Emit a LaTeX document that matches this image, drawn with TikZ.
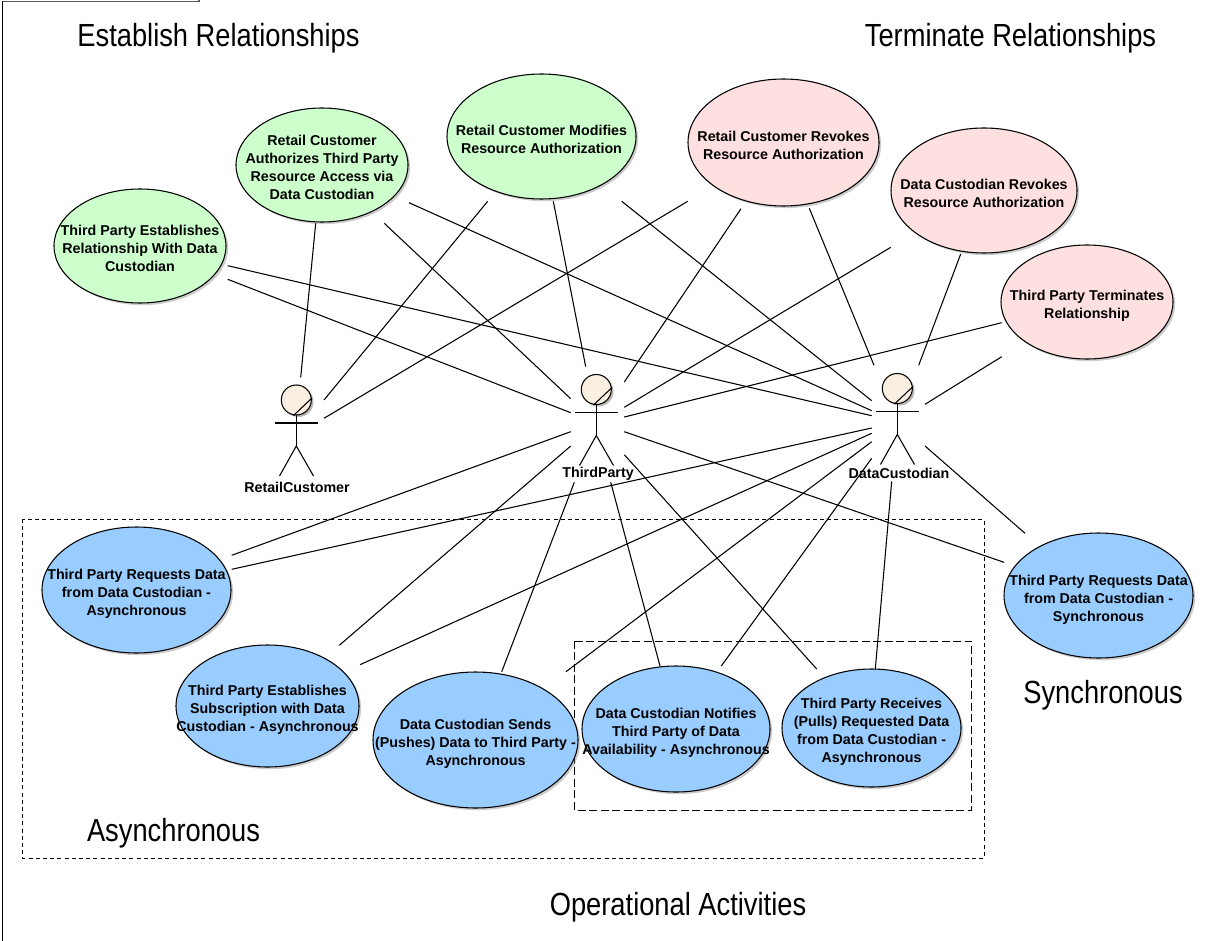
\documentclass[tikz,border=0pt]{standalone}
\usepackage{fontspec}
\setmainfont{Liberation Sans}
\newfontfamily\narrowfont[FakeStretch=0.853]{Liberation Sans}
\usetikzlibrary{shapes.geometric,shadows}
\definecolor{ucgreen}{HTML}{CCFFCC}
\definecolor{ucpink}{HTML}{FFE0E0}
\definecolor{ucblue}{HTML}{99CCFF}
\definecolor{headfill}{HTML}{FAF0E1}
\newcommand{\uclabel}[1]{\smash{\makebox[0pt]{\raisebox{-5.8pt}{\begin{tabular}{@{}c@{}}#1\end{tabular}}}}}
\newcommand{\stickman}[1]{%
    \begin{scope}[shift={(#1)}]
        \fill[black!28] (1,-33) circle (15);
        \draw[stick, fill=headfill] (-1.2,-35) circle (15);
        \draw[stick] (-4,-19.5) -- (14.5,-37);
        \draw[stick] (-23,-12) -- (20.5,-12);
        \draw[stick] (-1.2,-20) -- (-1.2,11);
        \draw[stick] (-18,41) -- (-1.2,11) -- (16,41);
    \end{scope}}
\tikzset{
    stick/.style={line width=0.8pt},
    assoc/.style={line width=0.8pt},
    ucase/.style n args={3}{ellipse, draw=black, line width=0.8pt, fill=#1, inner sep=0pt,
        minimum width=#2*0.75pt, minimum height=#3*0.75pt,
        font=\fontsize{10.7}{13.5}\selectfont\bfseries,
        drop shadow={shadow xshift=1.6pt, shadow yshift=-1.6pt, opacity=0.4}},
    actorspot/.style={inner sep=0pt, minimum size=0pt},
    actorname/.style={font=\fontsize{10.7}{13}\selectfont\bfseries, inner sep=0pt},
    heading/.style={font=\narrowfont\fontsize{24}{28}\selectfont, inner sep=0pt, anchor=base},
}
\begin{document}
\begin{tikzpicture}[x=0.75pt,y=-0.75pt]
    \useasboundingbox (0,0) rectangle (1212,941);
    \draw[line width=0.8pt] (2.5,941) -- (2.5,1.5);
    \draw[line width=0.8pt, black!65] (2.5,1.5) -- (199,1.5) -- (199,0);

    % activity groups
    \draw[line width=0.6pt, dash pattern=on 3pt off 2.4pt] (22,519) rectangle (984,858);
    \draw[line width=0.7pt, dash pattern=on 6pt off 2.6pt] (574.7,641) rectangle (971.7,810);

    % headings
    \node[heading] (establish) at (218.5,47) {Establish Relationships};
    \node[heading] (terminate) at (1010.5,47) {Terminate Relationships};
    \node[heading] (async) at (173.5,841) {Asynchronous};
    \node[heading] (sync) at (1103,703) {Synchronous};
    \node[heading] (operational) at (678,915) {Operational Activities};

    % actors
    \node[actorspot] (rc) at (297.5,435) {};
    \node[actorspot] (tp) at (597.5,424.5) {};
    \node[actorspot] (dc) at (898.5,423.5) {};
    \stickman{rc}
    \stickman{tp}
    \stickman{dc}

    % use cases
    \node[ucase={ucgreen}{172}{114}] (tpEstablish) at (140,246) {\uclabel{Third Party Establishes\\Relationship With Data\\Custodian}};
    \node[ucase={ucgreen}{172}{114}] (rcAuthorize) at (322,165) {\uclabel{Retail Customer\\Authorizes Third Party\\Resource Access via\\Data Custodian}};
    \node[ucase={ucgreen}{189}{125}] (rcModify) at (541.5,136.5) {\uclabel{Retail Customer Modifies\\Resource Authorization}};
    \node[ucase={ucpink}{191}{127}] (rcRevoke) at (783.5,142.5) {\uclabel{Retail Customer Revokes\\Resource Authorization}};
    \node[ucase={ucpink}{186}{125}] (dcRevoke) at (984,190.5) {\uclabel{Data Custodian Revokes\\Resource Authorization}};
    \node[ucase={ucpink}{172}{114}] (tpTerminate) at (1087,302) {\uclabel{Third Party Terminates\\Relationship}};
    \node[ucase={ucblue}{189}{126}] (tpReqAsync) at (136.5,590) {\uclabel{Third Party Requests Data\\from Data Custodian -\\Asynchronous}};
    \node[ucase={ucblue}{183}{122}] (tpSubscribe) at (267.5,706) {\uclabel{Third Party Establishes\\Subscription with Data\\Custodian - Asynchronous}};
    \node[ucase={ucblue}{205}{136}] (dcSend) at (475.5,740) {\uclabel{Data Custodian Sends\\(Pushes) Data to Third Party -\\Asynchronous}};
    \node[ucase={ucblue}{188}{126}] (dcNotify) at (676,729) {\uclabel{Data Custodian Notifies\\Third Party of Data\\Availability - Asynchronous}};
    \node[ucase={ucblue}{179}{118}] (tpReceive) at (871.5,728) {\uclabel{Third Party Receives\\(Pulls) Requested Data\\from Data Custodian -\\Asynchronous}};
    \node[ucase={ucblue}{189}{125}] (tpReqSync) at (1098.5,595.5) {\uclabel{Third Party Requests Data\\from Data Custodian -\\Synchronous}};

    % associations
    \draw[assoc] ([shift={(87.7,19.7)}]tpEstablish.center) -- ([shift={(-26.8,-7.8)}]dc.center);
    \draw[assoc] ([shift={(87.7,33.3)}]tpEstablish.center) -- ([shift={(-26.8,-11.8)}]tp.center);
    \draw[assoc] ([shift={(-6.3,58.3)}]rcAuthorize.center) -- ([shift={(3.2,-57.7)}]rc.center);
    \draw[assoc] ([shift={(62.3,58.3)}]rcAuthorize.center) -- ([shift={(-26.8,-25.8)}]tp.center);
    \draw[assoc] ([shift={(87,37.7)}]rcAuthorize.center) -- ([shift={(-26.8,-12.8)}]dc.center);
    \draw[assoc] ([shift={(-53.8,64.8)}]rcModify.center) -- ([shift={(26.5,-35)}]rc.center);
    \draw[assoc] ([shift={(11.8,64.8)}]rcModify.center) -- ([shift={(-11.8,-57.8)}]tp.center);
    \draw[assoc] ([shift={(80.2,64.8)}]rcModify.center) -- ([shift={(-26.8,-22.8)}]dc.center);
    \draw[assoc] ([shift={(-95.8,58.8)}]rcRevoke.center) -- ([shift={(26.5,-16.7)}]rc.center);
    \draw[assoc] ([shift={(-42.5,66.2)}]rcRevoke.center) -- ([shift={(26.8,-42.5)}]tp.center);
    \draw[assoc] ([shift={(25.8,65.8)}]rcRevoke.center) -- ([shift={(-24.5,-58.2)}]dc.center);
    \draw[assoc] ([shift={(-93.3,56.8)}]dcRevoke.center) -- ([shift={(26.8,-17.2)}]tp.center);
    \draw[assoc] ([shift={(-23.3,63.5)}]dcRevoke.center) -- ([shift={(20.2,-58.2)}]dc.center);
    \draw[assoc] ([shift={(-85.3,20.7)}]tpTerminate.center) -- ([shift={(26.8,-7.5)}]tp.center);
    \draw[assoc] ([shift={(-85.3,54.7)}]tpTerminate.center) -- ([shift={(26.5,-19.2)}]dc.center);
    \draw[assoc] ([shift={(95.2,-34.7)}]tpReqAsync.center) -- ([shift={(-26.8,7.2)}]tp.center);
    \draw[assoc] ([shift={(95.2,-20.7)}]tpReqAsync.center) -- ([shift={(-26.8,4.5)}]dc.center);
    \draw[assoc] ([shift={(71.8,-60.7)}]tpSubscribe.center) -- ([shift={(-26.8,21.5)}]tp.center);
    \draw[assoc] ([shift={(92.5,-41.3)}]tpSubscribe.center) -- ([shift={(-26.8,9.8)}]dc.center);
    \draw[assoc] ([shift={(26.2,-68.3)}]dcSend.center) -- ([shift={(-23.2,57.8)}]tp.center);
    \draw[assoc] ([shift={(90.5,-68.3)}]dcSend.center) -- ([shift={(-26.8,18.2)}]dc.center);
    \draw[assoc] ([shift={(-16,-63)}]dcNotify.center) -- ([shift={(13.2,57.8)}]tp.center);
    \draw[assoc] ([shift={(45.3,-63)}]dcNotify.center) -- ([shift={(-26.8,34.8)}]dc.center);
    \draw[assoc] ([shift={(-54.8,-59)}]tpReceive.center) -- ([shift={(26.8,30.2)}]tp.center);
    \draw[assoc] ([shift={(3.8,-59)}]tpReceive.center) -- ([shift={(-6.8,57.8)}]dc.center);
    \draw[assoc] ([shift={(-73.5,-62.2)}]tpReqSync.center) -- ([shift={(26.5,22.5)}]dc.center);
    \draw[assoc] ([shift={(-94.5,-33.2)}]tpReqSync.center) -- ([shift={(26.8,7.2)}]tp.center);

    % actor names
    \node[actorname] (rcName) at (297,487) {RetailCustomer};
    \node[actorname] (tpName) at (598,474) {ThirdParty};
    \node[actorname] (dcName) at (899,473) {DataCustodian};
\end{tikzpicture}
\end{document}
